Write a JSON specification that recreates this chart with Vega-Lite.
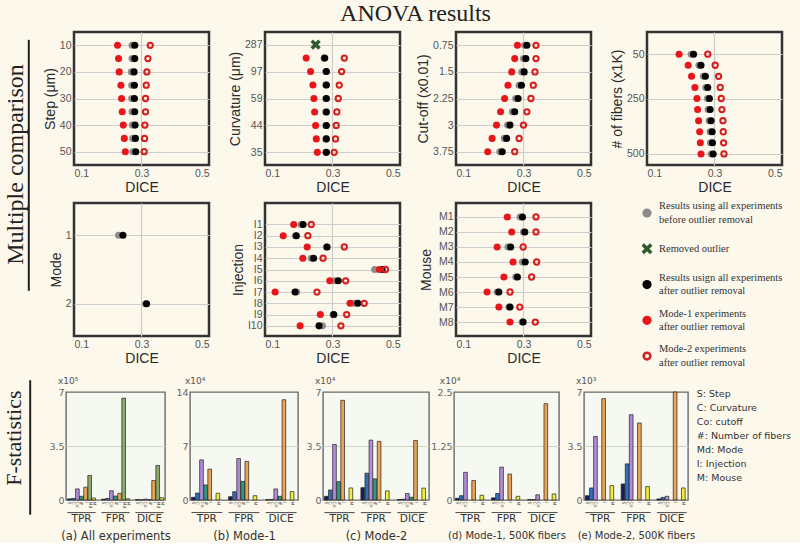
{
"$schema": "https://vega.github.io/schema/vega-lite/v6.json",
"background": "#fcf8ec",
"padding": {"left": 0, "top": 1, "right": 0, "bottom": 0},
"title": {"text": "ANOVA results", "font": "Liberation Serif", "fontSize": 24, "fontWeight": "normal", "color": "#222", "anchor": "middle", "offset": 5, "dx": 14},
"resolve": {"scale": {"color": "independent"}},
"config": {
  "font": "Liberation Sans",
  "view": {"stroke": "#333", "strokeWidth": 2.5},
  "axis": {"labelFont": "Liberation Sans", "titleFont": "Liberation Sans", "labelColor": "#555", "titleColor": "#2a2a2a", "titleFontWeight": "normal", "labelFontSize": 10.5, "titleFontSize": 14, "domain": false, "ticks": false, "gridColor": "#cdcdcd", "gridWidth": 1.2, "labelPadding": 3, "titlePadding": 2}
},
"datasets": {
  "step": [
    {"level":10,"kind":"before","dice":0.272},{"level":15,"kind":"before","dice":0.272},{"level":20,"kind":"before","dice":0.270},{"level":25,"kind":"before","dice":0.271},{"level":30,"kind":"before","dice":0.271},{"level":35,"kind":"before","dice":0.272},{"level":40,"kind":"before","dice":0.273},{"level":45,"kind":"before","dice":0.274},{"level":50,"kind":"before","dice":0.275},
    {"level":10,"kind":"after","dice":0.280},{"level":15,"kind":"after","dice":0.280},{"level":20,"kind":"after","dice":0.278},{"level":25,"kind":"after","dice":0.279},{"level":30,"kind":"after","dice":0.279},{"level":35,"kind":"after","dice":0.280},{"level":40,"kind":"after","dice":0.281},{"level":45,"kind":"after","dice":0.282},{"level":50,"kind":"after","dice":0.283},
    {"level":10,"kind":"mode1","dice":0.229},{"level":15,"kind":"mode1","dice":0.232},{"level":20,"kind":"mode1","dice":0.234},{"level":25,"kind":"mode1","dice":0.239},{"level":30,"kind":"mode1","dice":0.241},{"level":35,"kind":"mode1","dice":0.243},{"level":40,"kind":"mode1","dice":0.246},{"level":45,"kind":"mode1","dice":0.249},{"level":50,"kind":"mode1","dice":0.252},
    {"level":10,"kind":"mode2","dice":0.326},{"level":15,"kind":"mode2","dice":0.319},{"level":20,"kind":"mode2","dice":0.316},{"level":25,"kind":"mode2","dice":0.314},{"level":30,"kind":"mode2","dice":0.312},{"level":35,"kind":"mode2","dice":0.312},{"level":40,"kind":"mode2","dice":0.310},{"level":45,"kind":"mode2","dice":0.309},{"level":50,"kind":"mode2","dice":0.308}
  ],
  "curvature": [
    {"level":"287","kind":"outlier","dice":0.250},
    {"level":"143","kind":"before","dice":0.275},{"level":"97","kind":"before","dice":0.280},{"level":"72","kind":"before","dice":0.280},{"level":"59","kind":"before","dice":0.280},{"level":"50","kind":"before","dice":0.280},{"level":"44","kind":"before","dice":0.280},{"level":"39","kind":"before","dice":0.280},{"level":"35","kind":"before","dice":0.280},
    {"level":"143","kind":"after","dice":0.277},{"level":"97","kind":"after","dice":0.282},{"level":"72","kind":"after","dice":0.282},{"level":"59","kind":"after","dice":0.282},{"level":"50","kind":"after","dice":0.282},{"level":"44","kind":"after","dice":0.282},{"level":"39","kind":"after","dice":0.282},{"level":"35","kind":"after","dice":0.282},
    {"level":"143","kind":"mode1","dice":0.222},{"level":"97","kind":"mode1","dice":0.235},{"level":"72","kind":"mode1","dice":0.242},{"level":"59","kind":"mode1","dice":0.245},{"level":"50","kind":"mode1","dice":0.247},{"level":"44","kind":"mode1","dice":0.250},{"level":"39","kind":"mode1","dice":0.252},{"level":"35","kind":"mode1","dice":0.255},
    {"level":"143","kind":"mode2","dice":0.335},{"level":"97","kind":"mode2","dice":0.327},{"level":"72","kind":"mode2","dice":0.320},{"level":"59","kind":"mode2","dice":0.317},{"level":"50","kind":"mode2","dice":0.313},{"level":"44","kind":"mode2","dice":0.311},{"level":"39","kind":"mode2","dice":0.309},{"level":"35","kind":"mode2","dice":0.305}
  ],
  "cutoff": [
    {"level":0.75,"kind":"before","dice":0.303},{"level":1.125,"kind":"before","dice":0.300},{"level":1.5,"kind":"before","dice":0.295},{"level":1.875,"kind":"before","dice":0.287},{"level":2.25,"kind":"before","dice":0.277},{"level":2.625,"kind":"before","dice":0.267},{"level":3,"kind":"before","dice":0.253},{"level":3.375,"kind":"before","dice":0.243},{"level":3.75,"kind":"before","dice":0.230},
    {"level":0.75,"kind":"after","dice":0.310},{"level":1.125,"kind":"after","dice":0.307},{"level":1.5,"kind":"after","dice":0.302},{"level":1.875,"kind":"after","dice":0.294},{"level":2.25,"kind":"after","dice":0.284},{"level":2.625,"kind":"after","dice":0.274},{"level":3,"kind":"after","dice":0.260},{"level":3.375,"kind":"after","dice":0.250},{"level":3.75,"kind":"after","dice":0.237},
    {"level":0.75,"kind":"mode1","dice":0.282},{"level":1.125,"kind":"mode1","dice":0.274},{"level":1.5,"kind":"mode1","dice":0.265},{"level":1.875,"kind":"mode1","dice":0.254},{"level":2.25,"kind":"mode1","dice":0.244},{"level":2.625,"kind":"mode1","dice":0.232},{"level":3,"kind":"mode1","dice":0.220},{"level":3.375,"kind":"mode1","dice":0.207},{"level":3.75,"kind":"mode1","dice":0.194},
    {"level":0.75,"kind":"mode2","dice":0.337},{"level":1.125,"kind":"mode2","dice":0.337},{"level":1.5,"kind":"mode2","dice":0.334},{"level":1.875,"kind":"mode2","dice":0.329},{"level":2.25,"kind":"mode2","dice":0.322},{"level":2.625,"kind":"mode2","dice":0.310},{"level":3,"kind":"mode2","dice":0.300},{"level":3.375,"kind":"mode2","dice":0.287},{"level":3.75,"kind":"mode2","dice":0.274}
  ],
  "fibers": [
    {"level":50,"kind":"before","dice":0.231},{"level":100,"kind":"before","dice":0.254},{"level":150,"kind":"before","dice":0.267},{"level":200,"kind":"before","dice":0.274},{"level":250,"kind":"before","dice":0.279},{"level":300,"kind":"before","dice":0.281},{"level":350,"kind":"before","dice":0.284},{"level":400,"kind":"before","dice":0.287},{"level":450,"kind":"before","dice":0.288},{"level":500,"kind":"before","dice":0.290},
    {"level":50,"kind":"after","dice":0.238},{"level":100,"kind":"after","dice":0.260},{"level":150,"kind":"after","dice":0.273},{"level":200,"kind":"after","dice":0.280},{"level":250,"kind":"after","dice":0.285},{"level":300,"kind":"after","dice":0.287},{"level":350,"kind":"after","dice":0.290},{"level":400,"kind":"after","dice":0.293},{"level":450,"kind":"after","dice":0.294},{"level":500,"kind":"after","dice":0.296},
    {"level":50,"kind":"mode1","dice":0.195},{"level":100,"kind":"mode1","dice":0.222},{"level":150,"kind":"mode1","dice":0.232},{"level":200,"kind":"mode1","dice":0.242},{"level":250,"kind":"mode1","dice":0.248},{"level":300,"kind":"mode1","dice":0.250},{"level":350,"kind":"mode1","dice":0.253},{"level":400,"kind":"mode1","dice":0.256},{"level":450,"kind":"mode1","dice":0.258},{"level":500,"kind":"mode1","dice":0.260},
    {"level":50,"kind":"mode2","dice":0.280},{"level":100,"kind":"mode2","dice":0.302},{"level":150,"kind":"mode2","dice":0.312},{"level":200,"kind":"mode2","dice":0.317},{"level":250,"kind":"mode2","dice":0.320},{"level":300,"kind":"mode2","dice":0.322},{"level":350,"kind":"mode2","dice":0.325},{"level":400,"kind":"mode2","dice":0.326},{"level":450,"kind":"mode2","dice":0.327},{"level":500,"kind":"mode2","dice":0.328}
  ],
  "mode": [
    {"level":"1","kind":"before","dice":0.232},{"level":"2","kind":"before","dice":0.312},
    {"level":"1","kind":"after","dice":0.245},{"level":"2","kind":"after","dice":0.315}
  ],
  "injection": [
    {"level":"I1","kind":"before","dice":0.207},{"level":"I2","kind":"before","dice":0.190},{"level":"I3","kind":"before","dice":0.282},{"level":"I4","kind":"before","dice":0.237},{"level":"I5","kind":"before","dice":0.425},{"level":"I6","kind":"before","dice":0.307},{"level":"I7","kind":"before","dice":0.194},{"level":"I8","kind":"before","dice":0.365},{"level":"I9","kind":"before","dice":0.302},{"level":"I10","kind":"before","dice":0.270},
    {"level":"I1","kind":"after","dice":0.213},{"level":"I2","kind":"after","dice":0.193},{"level":"I3","kind":"after","dice":0.284},{"level":"I4","kind":"after","dice":0.244},{"level":"I5","kind":"after","dice":0.447},{"level":"I6","kind":"after","dice":0.317},{"level":"I7","kind":"after","dice":0.189},{"level":"I8","kind":"after","dice":0.375},{"level":"I9","kind":"after","dice":0.304},{"level":"I10","kind":"after","dice":0.260},
    {"level":"I1","kind":"mode1","dice":0.185},{"level":"I2","kind":"mode1","dice":0.154},{"level":"I3","kind":"mode1","dice":0.225},{"level":"I4","kind":"mode1","dice":0.212},{"level":"I5","kind":"mode1","dice":0.439},{"level":"I6","kind":"mode1","dice":0.292},{"level":"I7","kind":"mode1","dice":0.130},{"level":"I8","kind":"mode1","dice":0.352},{"level":"I9","kind":"mode1","dice":0.264},{"level":"I10","kind":"mode1","dice":0.204},
    {"level":"I1","kind":"mode2","dice":0.237},{"level":"I2","kind":"mode2","dice":0.227},{"level":"I3","kind":"mode2","dice":0.335},{"level":"I4","kind":"mode2","dice":0.272},{"level":"I5","kind":"mode2","dice":0.457},{"level":"I6","kind":"mode2","dice":0.339},{"level":"I7","kind":"mode2","dice":0.254},{"level":"I8","kind":"mode2","dice":0.394},{"level":"I9","kind":"mode2","dice":0.342},{"level":"I10","kind":"mode2","dice":0.325}
  ],
  "mouse": [
    {"level":"M1","kind":"before","dice":0.290},{"level":"M2","kind":"before","dice":0.300},{"level":"M3","kind":"before","dice":0.254},{"level":"M4","kind":"before","dice":0.297},{"level":"M5","kind":"before","dice":0.277},{"level":"M6","kind":"before","dice":0.222},{"level":"M7","kind":"before","dice":0.257},{"level":"M8","kind":"before","dice":0.296},
    {"level":"M1","kind":"after","dice":0.297},{"level":"M2","kind":"after","dice":0.304},{"level":"M3","kind":"after","dice":0.262},{"level":"M4","kind":"after","dice":0.305},{"level":"M5","kind":"after","dice":0.282},{"level":"M6","kind":"after","dice":0.227},{"level":"M7","kind":"after","dice":0.260},{"level":"M8","kind":"after","dice":0.299},
    {"level":"M1","kind":"mode1","dice":0.252},{"level":"M2","kind":"mode1","dice":0.265},{"level":"M3","kind":"mode1","dice":0.222},{"level":"M4","kind":"mode1","dice":0.269},{"level":"M5","kind":"mode1","dice":0.242},{"level":"M6","kind":"mode1","dice":0.192},{"level":"M7","kind":"mode1","dice":0.227},{"level":"M8","kind":"mode1","dice":0.260},
    {"level":"M1","kind":"mode2","dice":0.337},{"level":"M2","kind":"mode2","dice":0.337},{"level":"M3","kind":"mode2","dice":0.299},{"level":"M4","kind":"mode2","dice":0.339},{"level":"M5","kind":"mode2","dice":0.324},{"level":"M6","kind":"mode2","dice":0.260},{"level":"M7","kind":"mode2","dice":0.289},{"level":"M8","kind":"mode2","dice":0.335}
  ],
  "legendTop": [
    {"item":1,"kind":"before","label":"Results using all experiments\nbefore outlier removal"},
    {"item":2,"kind":"outlier","label":"Removed outlier"},
    {"item":3,"kind":"after","label":"Results usign all experiments\nafter outlier removal"},
    {"item":4,"kind":"mode1","label":"Mode-1 experiments\nafter outlier removal"},
    {"item":5,"kind":"mode2","label":"Mode-2 experiments\nafter outlier removal"}
  ],
  "legendBottom": [
    {"i":1,"label":"S: Step"},{"i":2,"label":"C: Curvature"},{"i":3,"label":"Co: cutoff"},{"i":4,"label":"#: Number of fibers"},{"i":5,"label":"Md: Mode"},{"i":6,"label":"I: Injection"},{"i":7,"label":"M: Mouse"}
  ],
  "fa": [
    {"measure":"TPR","factor":"S","value":0.07},{"measure":"TPR","factor":"C","value":0.1},{"measure":"TPR","factor":"Co","value":0.72},{"measure":"TPR","factor":"#","value":0.24},{"measure":"TPR","factor":"Md","value":1.59},{"measure":"TPR","factor":"I","value":0.83},{"measure":"TPR","factor":"M","value":0.13},
    {"measure":"FPR","factor":"S","value":0.05},{"measure":"FPR","factor":"C","value":0.1},{"measure":"FPR","factor":"Co","value":0.6},{"measure":"FPR","factor":"#","value":0.26},{"measure":"FPR","factor":"Md","value":6.6},{"measure":"FPR","factor":"I","value":0.43},{"measure":"FPR","factor":"M","value":0.08},
    {"measure":"DICE","factor":"S","value":0.02},{"measure":"DICE","factor":"C","value":0.01},{"measure":"DICE","factor":"Co","value":0.06},{"measure":"DICE","factor":"#","value":0.02},{"measure":"DICE","factor":"Md","value":2.24},{"measure":"DICE","factor":"I","value":1.26},{"measure":"DICE","factor":"M","value":0.15}
  ],
  "fb": [
    {"measure":"TPR","factor":"S","value":0.35},{"measure":"TPR","factor":"C","value":0.9},{"measure":"TPR","factor":"Co","value":5.2},{"measure":"TPR","factor":"#","value":1.95},{"measure":"TPR","factor":"I","value":4.0},{"measure":"TPR","factor":"M","value":0.87},
    {"measure":"FPR","factor":"S","value":0.43},{"measure":"FPR","factor":"C","value":1.08},{"measure":"FPR","factor":"Co","value":5.37},{"measure":"FPR","factor":"#","value":2.42},{"measure":"FPR","factor":"I","value":5.0},{"measure":"FPR","factor":"M","value":0.56},
    {"measure":"DICE","factor":"S","value":0.04},{"measure":"DICE","factor":"C","value":0.08},{"measure":"DICE","factor":"Co","value":1.43},{"measure":"DICE","factor":"#","value":0.48},{"measure":"DICE","factor":"I","value":13.0},{"measure":"DICE","factor":"M","value":1.1}
  ],
  "fc": [
    {"measure":"TPR","factor":"S","value":0.24},{"measure":"TPR","factor":"C","value":0.65},{"measure":"TPR","factor":"Co","value":3.6},{"measure":"TPR","factor":"#","value":1.19},{"measure":"TPR","factor":"I","value":6.46},{"measure":"TPR","factor":"M","value":0.78},
    {"measure":"FPR","factor":"S","value":0.8},{"measure":"FPR","factor":"C","value":1.74},{"measure":"FPR","factor":"Co","value":3.88},{"measure":"FPR","factor":"#","value":1.37},{"measure":"FPR","factor":"I","value":3.8},{"measure":"FPR","factor":"M","value":0.59},
    {"measure":"DICE","factor":"S","value":0.03},{"measure":"DICE","factor":"C","value":0.05},{"measure":"DICE","factor":"Co","value":0.42},{"measure":"DICE","factor":"#","value":0.18},{"measure":"DICE","factor":"I","value":3.86},{"measure":"DICE","factor":"M","value":0.77}
  ],
  "fd": [
    {"measure":"TPR","factor":"S","value":0.04},{"measure":"TPR","factor":"C","value":0.1},{"measure":"TPR","factor":"Co","value":0.64},{"measure":"TPR","factor":"I","value":0.45},{"measure":"TPR","factor":"M","value":0.11},
    {"measure":"FPR","factor":"S","value":0.05},{"measure":"FPR","factor":"C","value":0.15},{"measure":"FPR","factor":"Co","value":0.76},{"measure":"FPR","factor":"I","value":0.6},{"measure":"FPR","factor":"M","value":0.085},
    {"measure":"DICE","factor":"S","value":0.01},{"measure":"DICE","factor":"C","value":0.01},{"measure":"DICE","factor":"Co","value":0.12},{"measure":"DICE","factor":"I","value":2.23},{"measure":"DICE","factor":"M","value":0.14}
  ],
  "fe": [
    {"measure":"TPR","factor":"S","value":0.28},{"measure":"TPR","factor":"C","value":0.78},{"measure":"TPR","factor":"Co","value":4.12},{"measure":"TPR","factor":"I","value":6.57},{"measure":"TPR","factor":"M","value":0.93},
    {"measure":"FPR","factor":"S","value":1.04},{"measure":"FPR","factor":"C","value":2.34},{"measure":"FPR","factor":"Co","value":5.53},{"measure":"FPR","factor":"I","value":4.99},{"measure":"FPR","factor":"M","value":0.87},
    {"measure":"DICE","factor":"S","value":0.07},{"measure":"DICE","factor":"C","value":0.17},{"measure":"DICE","factor":"Co","value":0.24},{"measure":"DICE","factor":"I","value":7.0},{"measure":"DICE","factor":"M","value":0.78}
  ],
  "labelTop": [{"label":"Multiple comparison"}],
  "labelBottom": [{"label":"F-statistics"}]
},
"vconcat": [
 {
  "hconcat": [
   {
    "width": 36, "height": 305,
    "view": {"stroke": null},
    "data": {"name": "labelTop"},
    "layer": [
     {"mark": {"type": "text", "angle": 270, "align": "center", "baseline": "middle", "font": "Liberation Serif", "fontSize": 24, "color": "#222"},
      "encoding": {"x": {"datum": 18, "type": "quantitative", "scale": {"domain": [0, 36]}, "axis": null}, "y": {"datum": 152, "type": "quantitative", "scale": {"domain": [0, 305], "reverse": true}, "axis": null}, "text": {"field": "label"}}},
     {"mark": {"type": "rule", "color": "#222", "strokeWidth": 2},
      "encoding": {"x": {"datum": 32, "type": "quantitative"}, "y": {"datum": 9, "type": "quantitative"}, "y2": {"datum": 297}}}
    ]
   },
   {
    "vconcat": [
     {
      "hconcat": [
       {
        "width": 135, "height": 133,
        "data": {"name": "step"},
        "encoding": {
         "x": {"field": "dice", "type": "quantitative", "scale": {"domain": [0.1, 0.5], "nice": false, "zero": false}, "axis": {"values": [0.1, 0.3, 0.5], "format": ".1f", "title": "DICE", "grid": true, "gridOpacity": {"condition": {"test": "datum.value === 0.3", "value": 1}, "value": 0}}},
         "y": {"field": "level", "type": "quantitative", "scale": {"domain": [5, 55], "reverse": true, "nice": false, "zero": false}, "axis": {"values": [10, 20, 30, 40, 50], "labelExpr": "datum.value + ''", "title": "Step (μm)", "grid": true}}
        },
        "layer": [
         {"transform": [{"filter": "datum.kind === 'before' || datum.kind === 'after' || datum.kind === 'mode1'"}], "mark": {"type": "circle", "size": 50, "opacity": 1}, "encoding": {"color": {"field": "kind", "type": "nominal", "scale": {"domain": ["before", "after", "mode1"], "range": ["#8c8c8c", "#050505", "#e8161b"]}, "legend": null}}},
         {"transform": [{"filter": "datum.kind === 'mode2'"}], "mark": {"type": "point", "shape": "circle", "size": 28, "strokeWidth": 2, "color": "#d61e1e", "filled": false, "opacity": 1}}
        ]
       },
       {
        "width": 135, "height": 133,
        "data": {"name": "curvature"},
        "encoding": {
         "x": {"field": "dice", "type": "quantitative", "scale": {"domain": [0.1, 0.5], "nice": false, "zero": false}, "axis": {"values": [0.1, 0.3, 0.5], "format": ".1f", "title": "DICE", "grid": true, "gridOpacity": {"condition": {"test": "datum.value === 0.3", "value": 1}, "value": 0}}},
         "y": {"field": "level", "type": "ordinal", "scale": {"domain": ["287", "143", "97", "72", "59", "50", "44", "39", "35"], "padding": 0.94}, "axis": {"values": ["287", "97", "59", "44", "35"], "title": "Curvature (μm)", "grid": true}}
        },
        "layer": [
         {"transform": [{"filter": "datum.kind === 'before' || datum.kind === 'after' || datum.kind === 'mode1'"}], "mark": {"type": "circle", "size": 50, "opacity": 1}, "encoding": {"color": {"field": "kind", "type": "nominal", "scale": {"domain": ["before", "after", "mode1"], "range": ["#8c8c8c", "#050505", "#e8161b"]}, "legend": null}}},
         {"transform": [{"filter": "datum.kind === 'mode2'"}], "mark": {"type": "point", "shape": "circle", "size": 28, "strokeWidth": 2, "color": "#d61e1e", "filled": false, "opacity": 1}},
         {"transform": [{"filter": "datum.kind === 'outlier'"}], "mark": {"type": "point", "shape": "M-1,-1L1,1M-1,1L1,-1", "size": 60, "strokeWidth": 3.5, "color": "#2f5a30", "filled": false, "opacity": 1}}
        ]
       },
       {
        "width": 135, "height": 133,
        "data": {"name": "cutoff"},
        "encoding": {
         "x": {"field": "dice", "type": "quantitative", "scale": {"domain": [0.1, 0.5], "nice": false, "zero": false}, "axis": {"values": [0.1, 0.3, 0.5], "format": ".1f", "title": "DICE", "grid": true, "gridOpacity": {"condition": {"test": "datum.value === 0.3", "value": 1}, "value": 0}}},
         "y": {"field": "level", "type": "quantitative", "scale": {"domain": [0.375, 4.125], "reverse": true, "nice": false, "zero": false}, "axis": {"values": [0.75, 1.5, 2.25, 3, 3.75], "labelExpr": "datum.value + ''", "title": "Cut-off (x0.01)", "grid": true}}
        },
        "layer": [
         {"transform": [{"filter": "datum.kind === 'before' || datum.kind === 'after' || datum.kind === 'mode1'"}], "mark": {"type": "circle", "size": 50, "opacity": 1}, "encoding": {"color": {"field": "kind", "type": "nominal", "scale": {"domain": ["before", "after", "mode1"], "range": ["#8c8c8c", "#050505", "#e8161b"]}, "legend": null}}},
         {"transform": [{"filter": "datum.kind === 'mode2'"}], "mark": {"type": "point", "shape": "circle", "size": 28, "strokeWidth": 2, "color": "#d61e1e", "filled": false, "opacity": 1}}
        ]
       },
       {
        "width": 135, "height": 133,
        "data": {"name": "fibers"},
        "encoding": {
         "x": {"field": "dice", "type": "quantitative", "scale": {"domain": [0.1, 0.5], "nice": false, "zero": false}, "axis": {"values": [0.1, 0.3, 0.5], "format": ".1f", "title": "DICE", "grid": true, "gridOpacity": {"condition": {"test": "datum.value === 0.3", "value": 1}, "value": 0}}},
         "y": {"field": "level", "type": "quantitative", "scale": {"domain": [-50, 550], "reverse": true, "nice": false, "zero": false}, "axis": {"values": [50, 250, 500], "labelExpr": "datum.value + ''", "title": "# of fibers (x1K)", "grid": true}}
        },
        "layer": [
         {"transform": [{"filter": "datum.kind === 'before' || datum.kind === 'after' || datum.kind === 'mode1'"}], "mark": {"type": "circle", "size": 50, "opacity": 1}, "encoding": {"color": {"field": "kind", "type": "nominal", "scale": {"domain": ["before", "after", "mode1"], "range": ["#8c8c8c", "#050505", "#e8161b"]}, "legend": null}}},
         {"transform": [{"filter": "datum.kind === 'mode2'"}], "mark": {"type": "point", "shape": "circle", "size": 28, "strokeWidth": 2, "color": "#d61e1e", "filled": false, "opacity": 1}}
        ]
       }
      ],
      "spacing": 56, "bounds": "flush"
     },
     {
      "hconcat": [
       {
        "width": 135, "height": 133,
        "data": {"name": "mode"},
        "encoding": {
         "x": {"field": "dice", "type": "quantitative", "scale": {"domain": [0.1, 0.5], "nice": false, "zero": false}, "axis": {"values": [0.1, 0.3, 0.5], "format": ".1f", "title": "DICE", "grid": true, "gridOpacity": {"condition": {"test": "datum.value === 0.3", "value": 1}, "value": 0}}},
         "y": {"field": "level", "type": "ordinal", "scale": {"domain": ["1", "2"], "padding": 0.47}, "axis": {"title": "Mode", "grid": true}}
        },
        "layer": [
         {"mark": {"type": "circle", "size": 50, "opacity": 1}, "encoding": {"color": {"field": "kind", "type": "nominal", "scale": {"domain": ["before", "after", "mode1"], "range": ["#8c8c8c", "#050505", "#e8161b"]}, "legend": null}}}
        ]
       },
       {
        "width": 135, "height": 133,
        "data": {"name": "injection"},
        "encoding": {
         "x": {"field": "dice", "type": "quantitative", "scale": {"domain": [0.1, 0.5], "nice": false, "zero": false}, "axis": {"values": [0.1, 0.3, 0.5], "format": ".1f", "title": "DICE", "grid": true, "gridOpacity": {"condition": {"test": "datum.value === 0.3", "value": 1}, "value": 0}}},
         "y": {"field": "level", "type": "ordinal", "scale": {"domain": [" ", "I1", "I2", "I3", "I4", "I5", "I6", "I7", "I8", "I9", "I10"], "padding": 0.9}, "axis": {"values": ["I1", "I2", "I3", "I4", "I5", "I6", "I7", "I8", "I9", "I10"], "title": "Injection", "grid": true}}
        },
        "layer": [
         {"transform": [{"filter": "datum.kind === 'before' || datum.kind === 'after' || datum.kind === 'mode1'"}], "mark": {"type": "circle", "size": 50, "opacity": 1}, "encoding": {"color": {"field": "kind", "type": "nominal", "scale": {"domain": ["before", "after", "mode1"], "range": ["#8c8c8c", "#050505", "#e8161b"]}, "legend": null}}},
         {"transform": [{"filter": "datum.kind === 'mode2'"}], "mark": {"type": "point", "shape": "circle", "size": 28, "strokeWidth": 2, "color": "#d61e1e", "filled": false, "opacity": 1}}
        ]
       },
       {
        "width": 135, "height": 133,
        "data": {"name": "mouse"},
        "encoding": {
         "x": {"field": "dice", "type": "quantitative", "scale": {"domain": [0.1, 0.5], "nice": false, "zero": false}, "axis": {"values": [0.1, 0.3, 0.5], "format": ".1f", "title": "DICE", "grid": true, "gridOpacity": {"condition": {"test": "datum.value === 0.3", "value": 1}, "value": 0}}},
         "y": {"field": "level", "type": "ordinal", "scale": {"domain": ["M1", "M2", "M3", "M4", "M5", "M6", "M7", "M8"], "padding": 0.93}, "axis": {"title": "Mouse", "grid": true, "titlePadding": 5}}
        },
        "layer": [
         {"transform": [{"filter": "datum.kind === 'before' || datum.kind === 'after' || datum.kind === 'mode1'"}], "mark": {"type": "circle", "size": 50, "opacity": 1}, "encoding": {"color": {"field": "kind", "type": "nominal", "scale": {"domain": ["before", "after", "mode1"], "range": ["#8c8c8c", "#050505", "#e8161b"]}, "legend": null}}},
         {"transform": [{"filter": "datum.kind === 'mode2'"}], "mark": {"type": "point", "shape": "circle", "size": 28, "strokeWidth": 2, "color": "#d61e1e", "filled": false, "opacity": 1}}
        ]
       },
       {
        "width": 135, "height": 133,
        "view": {"stroke": null},
        "data": {"name": "legendTop"},
        "encoding": {
         "x": {"datum": 0, "type": "quantitative", "scale": {"domain": [0, 1]}, "axis": null},
         "y": {"field": "item", "type": "quantitative", "scale": {"domain": [0.72, 4.44], "reverse": true, "nice": false, "zero": false}, "axis": null}
        },
        "layer": [
         {"transform": [{"filter": "datum.kind === 'before' || datum.kind === 'after' || datum.kind === 'mode1'"}], "mark": {"type": "circle", "size": 85, "opacity": 1}, "encoding": {"color": {"field": "kind", "type": "nominal", "scale": {"domain": ["before", "after", "mode1"], "range": ["#8c8c8c", "#050505", "#e8161b"]}, "legend": null}}},
         {"transform": [{"filter": "datum.kind === 'mode2'"}], "mark": {"type": "point", "shape": "circle", "size": 45, "strokeWidth": 2.5, "color": "#d61e1e", "filled": false, "opacity": 1}},
         {"transform": [{"filter": "datum.kind === 'outlier'"}], "mark": {"type": "point", "shape": "M-1,-1L1,1M-1,1L1,-1", "size": 70, "strokeWidth": 3.5, "color": "#2f5a30", "filled": false, "opacity": 1}},
         {"transform": [{"filter": "datum.kind !== 'outlier'"}], "mark": {"type": "text", "align": "left", "baseline": "middle", "dx": 12, "dy": -6.75, "font": "Liberation Serif", "fontSize": 10.5, "lineHeight": 13.5, "lineBreak": "\n", "color": "#333"}, "encoding": {"text": {"field": "label"}}},
         {"transform": [{"filter": "datum.kind === 'outlier'"}], "mark": {"type": "text", "align": "left", "baseline": "middle", "dx": 12, "font": "Liberation Serif", "fontSize": 10.5, "color": "#333"}, "encoding": {"text": {"field": "label"}}}
        ]
       }
      ],
      "spacing": 56, "bounds": "flush"
     }
    ],
    "spacing": 5
   }
  ],
  "spacing": 6
 },
 {
  "hconcat": [
   {
    "width": 33, "height": 108,
    "view": {"stroke": null},
    "data": {"name": "labelBottom"},
    "layer": [
     {"mark": {"type": "text", "angle": 270, "align": "center", "baseline": "middle", "font": "Liberation Serif", "fontSize": 22, "color": "#222"},
      "encoding": {"x": {"datum": 15, "type": "quantitative", "scale": {"domain": [0, 33]}, "axis": null}, "y": {"datum": 47, "type": "quantitative", "scale": {"domain": [0, 108], "reverse": true}, "axis": null}, "text": {"field": "label"}}},
     {"mark": {"type": "rule", "color": "#222", "strokeWidth": 2},
      "encoding": {"x": {"datum": 32, "type": "quantitative"}, "y": {"datum": -12, "type": "quantitative"}, "y2": {"datum": 125}}}
    ]
   },
   {
    "hconcat": [
     {
      "width": 99, "height": 108,
      "data": {"name": "fa"},
      "view": {"stroke": "#6b6b6b", "strokeWidth": 1.4, "fill": "#f6f9f1"},
      "title": {"text": "x10⁵", "anchor": "start", "dx": 9, "offset": 1, "fontSize": 9, "font": "DejaVu Sans", "fontWeight": "normal", "color": "#555"},
      "encoding": {"x": {"field": "measure", "type": "nominal", "sort": ["TPR", "FPR", "DICE"], "scale": {"paddingInner": 0.17, "paddingOuter": 0.04}, "axis": {"title": "(a) All experiments", "labelAngle": 0, "labelPadding": 13, "titlePadding": 7, "labelFont": "DejaVu Sans", "labelFontSize": 10.5, "labelColor": "#333", "titleFont": "DejaVu Sans", "titleFontSize": 11.5, "titleColor": "#333", "grid": false}}},
      "layer": [
       {"mark": {"type": "bar", "stroke": "#222", "strokeWidth": 0.7}, "encoding": {"xOffset": {"field": "factor", "type": "nominal", "sort": ["S", "C", "Co", "#", "Md", "I", "M"], "scale": {"paddingInner": 0.1}}, "y": {"field": "value", "type": "quantitative", "scale": {"domain": [0, 7], "nice": false}, "axis": {"values": [0, 3.5, 7], "labelExpr": "datum.value + ''", "title": null, "labelFont": "DejaVu Sans", "labelFontSize": 9.5, "labelColor": "#666", "labelPadding": 2, "grid": true, "gridColor": "#cfd6c8", "gridOpacity": {"condition": {"test": "datum.value === 3.5", "value": 1}, "value": 0}}}, "color": {"field": "factor", "type": "nominal", "scale": {"domain": ["S", "C", "Co", "#", "Md", "I", "M"], "range": ["#1c1a5c", "#2f6fb8", "#b38bd9", "#2e9a7e", "#8caa6a", "#e9a455", "#f1ee3a"]}, "legend": null}}},
       {"mark": {"type": "text", "angle": 90, "align": "left", "baseline": "middle", "dx": 1.5, "fontSize": 4.5, "color": "#555", "font": "DejaVu Sans"}, "encoding": {"xOffset": {"field": "factor", "type": "nominal", "sort": ["S", "C", "Co", "#", "Md", "I", "M"]}, "y": {"datum": 0, "axis": {"title": null}}, "text": {"field": "factor"}}},
       {"transform": [{"filter": "datum.factor === 'S'"}], "mark": {"type": "bar", "color": "#555"}, "encoding": {"y": {"datum": -0.78, "axis": {"title": null}}, "y2": {"datum": -0.85}}}
      ]
     },
     {
      "width": 108, "height": 108,
      "data": {"name": "fb"},
      "view": {"stroke": "#6b6b6b", "strokeWidth": 1.4, "fill": "#f6f9f1"},
      "title": {"text": "x10⁴", "anchor": "start", "dx": 9, "offset": 1, "fontSize": 9, "font": "DejaVu Sans", "fontWeight": "normal", "color": "#555"},
      "encoding": {"x": {"field": "measure", "type": "nominal", "sort": ["TPR", "FPR", "DICE"], "scale": {"paddingInner": 0.17, "paddingOuter": 0.04}, "axis": {"title": "(b) Mode-1", "labelAngle": 0, "labelPadding": 13, "titlePadding": 7, "labelFont": "DejaVu Sans", "labelFontSize": 10.5, "labelColor": "#333", "titleFont": "DejaVu Sans", "titleFontSize": 11.5, "titleColor": "#333", "grid": false}}},
      "layer": [
       {"mark": {"type": "bar", "stroke": "#222", "strokeWidth": 0.7}, "encoding": {"xOffset": {"field": "factor", "type": "nominal", "sort": ["S", "C", "Co", "#", "I", "M"], "scale": {"paddingInner": 0.1}}, "y": {"field": "value", "type": "quantitative", "scale": {"domain": [0, 14], "nice": false}, "axis": {"values": [0, 7, 14], "labelExpr": "datum.value + ''", "title": null, "labelFont": "DejaVu Sans", "labelFontSize": 9.5, "labelColor": "#666", "labelPadding": 2, "grid": true, "gridColor": "#cfd6c8", "gridOpacity": {"condition": {"test": "datum.value === 7", "value": 1}, "value": 0}}}, "color": {"field": "factor", "type": "nominal", "scale": {"domain": ["S", "C", "Co", "#", "Md", "I", "M"], "range": ["#1c1a5c", "#2f6fb8", "#b38bd9", "#2e9a7e", "#8caa6a", "#e9a455", "#f1ee3a"]}, "legend": null}}},
       {"mark": {"type": "text", "angle": 90, "align": "left", "baseline": "middle", "dx": 1.5, "fontSize": 4.5, "color": "#555", "font": "DejaVu Sans"}, "encoding": {"xOffset": {"field": "factor", "type": "nominal", "sort": ["S", "C", "Co", "#", "I", "M"]}, "y": {"datum": 0, "axis": {"title": null}}, "text": {"field": "factor"}}},
       {"transform": [{"filter": "datum.factor === 'S'"}], "mark": {"type": "bar", "color": "#555"}, "encoding": {"y": {"datum": -1.56, "axis": {"title": null}}, "y2": {"datum": -1.7}}}
      ]
     },
     {
      "width": 106, "height": 108,
      "data": {"name": "fc"},
      "view": {"stroke": "#6b6b6b", "strokeWidth": 1.4, "fill": "#f6f9f1"},
      "title": {"text": "x10⁴", "anchor": "start", "dx": 9, "offset": 1, "fontSize": 9, "font": "DejaVu Sans", "fontWeight": "normal", "color": "#555"},
      "encoding": {"x": {"field": "measure", "type": "nominal", "sort": ["TPR", "FPR", "DICE"], "scale": {"paddingInner": 0.17, "paddingOuter": 0.04}, "axis": {"title": "(c) Mode-2", "labelAngle": 0, "labelPadding": 13, "titlePadding": 7, "labelFont": "DejaVu Sans", "labelFontSize": 10.5, "labelColor": "#333", "titleFont": "DejaVu Sans", "titleFontSize": 11.5, "titleColor": "#333", "grid": false}}},
      "layer": [
       {"mark": {"type": "bar", "stroke": "#222", "strokeWidth": 0.7}, "encoding": {"xOffset": {"field": "factor", "type": "nominal", "sort": ["S", "C", "Co", "#", "I", "M"], "scale": {"paddingInner": 0.1}}, "y": {"field": "value", "type": "quantitative", "scale": {"domain": [0, 7], "nice": false}, "axis": {"values": [0, 3.5, 7], "labelExpr": "datum.value + ''", "title": null, "labelFont": "DejaVu Sans", "labelFontSize": 9.5, "labelColor": "#666", "labelPadding": 2, "grid": true, "gridColor": "#cfd6c8", "gridOpacity": {"condition": {"test": "datum.value === 3.5", "value": 1}, "value": 0}}}, "color": {"field": "factor", "type": "nominal", "scale": {"domain": ["S", "C", "Co", "#", "Md", "I", "M"], "range": ["#1c1a5c", "#2f6fb8", "#b38bd9", "#2e9a7e", "#8caa6a", "#e9a455", "#f1ee3a"]}, "legend": null}}},
       {"mark": {"type": "text", "angle": 90, "align": "left", "baseline": "middle", "dx": 1.5, "fontSize": 4.5, "color": "#555", "font": "DejaVu Sans"}, "encoding": {"xOffset": {"field": "factor", "type": "nominal", "sort": ["S", "C", "Co", "#", "I", "M"]}, "y": {"datum": 0, "axis": {"title": null}}, "text": {"field": "factor"}}},
       {"transform": [{"filter": "datum.factor === 'S'"}], "mark": {"type": "bar", "color": "#555"}, "encoding": {"y": {"datum": -0.78, "axis": {"title": null}}, "y2": {"datum": -0.85}}}
      ]
     },
     {
      "width": 105, "height": 108,
      "data": {"name": "fd"},
      "view": {"stroke": "#6b6b6b", "strokeWidth": 1.4, "fill": "#f6f9f1"},
      "title": {"text": "x10⁴", "anchor": "start", "dx": 9, "offset": 1, "fontSize": 9, "font": "DejaVu Sans", "fontWeight": "normal", "color": "#555"},
      "encoding": {"x": {"field": "measure", "type": "nominal", "sort": ["TPR", "FPR", "DICE"], "scale": {"paddingInner": 0.17, "paddingOuter": 0.04}, "axis": {"title": "(d) Mode-1, 500K fibers", "labelAngle": 0, "labelPadding": 13, "titlePadding": 7, "labelFont": "DejaVu Sans", "labelFontSize": 10.5, "labelColor": "#333", "titleFont": "DejaVu Sans", "titleFontSize": 10, "titleColor": "#333", "grid": false}}},
      "layer": [
       {"mark": {"type": "bar", "stroke": "#222", "strokeWidth": 0.7}, "encoding": {"xOffset": {"field": "factor", "type": "nominal", "sort": ["S", "C", "Co", "I", "M"], "scale": {"paddingInner": 0.1}}, "y": {"field": "value", "type": "quantitative", "scale": {"domain": [0, 2.5], "nice": false}, "axis": {"values": [0, 1.25, 2.5], "labelExpr": "datum.value + ''", "title": null, "labelFont": "DejaVu Sans", "labelFontSize": 9.5, "labelColor": "#666", "labelPadding": 2, "grid": true, "gridColor": "#cfd6c8", "gridOpacity": {"condition": {"test": "datum.value === 1.25", "value": 1}, "value": 0}}}, "color": {"field": "factor", "type": "nominal", "scale": {"domain": ["S", "C", "Co", "#", "Md", "I", "M"], "range": ["#1c1a5c", "#2f6fb8", "#b38bd9", "#2e9a7e", "#8caa6a", "#e9a455", "#f1ee3a"]}, "legend": null}}},
       {"mark": {"type": "text", "angle": 90, "align": "left", "baseline": "middle", "dx": 1.5, "fontSize": 4.5, "color": "#555", "font": "DejaVu Sans"}, "encoding": {"xOffset": {"field": "factor", "type": "nominal", "sort": ["S", "C", "Co", "I", "M"]}, "y": {"datum": 0, "axis": {"title": null}}, "text": {"field": "factor"}}},
       {"transform": [{"filter": "datum.factor === 'S'"}], "mark": {"type": "bar", "color": "#555"}, "encoding": {"y": {"datum": -0.278, "axis": {"title": null}}, "y2": {"datum": -0.302}}}
      ]
     },
     {
      "width": 104, "height": 108,
      "data": {"name": "fe"},
      "view": {"stroke": "#6b6b6b", "strokeWidth": 1.4, "fill": "#f6f9f1"},
      "title": {"text": "x10³", "anchor": "start", "dx": 9, "offset": 1, "fontSize": 9, "font": "DejaVu Sans", "fontWeight": "normal", "color": "#555"},
      "encoding": {"x": {"field": "measure", "type": "nominal", "sort": ["TPR", "FPR", "DICE"], "scale": {"paddingInner": 0.17, "paddingOuter": 0.04}, "axis": {"title": "(e) Mode-2, 500K fibers", "labelAngle": 0, "labelPadding": 13, "titlePadding": 7, "labelFont": "DejaVu Sans", "labelFontSize": 10.5, "labelColor": "#333", "titleFont": "DejaVu Sans", "titleFontSize": 10, "titleColor": "#333", "grid": false}}},
      "layer": [
       {"mark": {"type": "bar", "stroke": "#222", "strokeWidth": 0.7}, "encoding": {"xOffset": {"field": "factor", "type": "nominal", "sort": ["S", "C", "Co", "I", "M"], "scale": {"paddingInner": 0.1}}, "y": {"field": "value", "type": "quantitative", "scale": {"domain": [0, 7], "nice": false}, "axis": {"values": [0, 3.5, 7], "labelExpr": "datum.value + ''", "title": null, "labelFont": "DejaVu Sans", "labelFontSize": 9.5, "labelColor": "#666", "labelPadding": 2, "grid": true, "gridColor": "#cfd6c8", "gridOpacity": {"condition": {"test": "datum.value === 3.5", "value": 1}, "value": 0}}}, "color": {"field": "factor", "type": "nominal", "scale": {"domain": ["S", "C", "Co", "#", "Md", "I", "M"], "range": ["#1c1a5c", "#2f6fb8", "#b38bd9", "#2e9a7e", "#8caa6a", "#e9a455", "#f1ee3a"]}, "legend": null}}},
       {"mark": {"type": "text", "angle": 90, "align": "left", "baseline": "middle", "dx": 1.5, "fontSize": 4.5, "color": "#555", "font": "DejaVu Sans"}, "encoding": {"xOffset": {"field": "factor", "type": "nominal", "sort": ["S", "C", "Co", "I", "M"]}, "y": {"datum": 0, "axis": {"title": null}}, "text": {"field": "factor"}}},
       {"transform": [{"filter": "datum.factor === 'S'"}], "mark": {"type": "bar", "color": "#555"}, "encoding": {"y": {"datum": -0.78, "axis": {"title": null}}, "y2": {"datum": -0.85}}}
      ]
     },
     {
      "width": 90, "height": 108,
      "view": {"stroke": null},
      "data": {"name": "legendBottom"},
      "mark": {"type": "text", "align": "left", "baseline": "middle", "font": "DejaVu Sans", "fontSize": 9.5, "color": "#333"},
      "encoding": {
       "x": {"datum": -0.18, "type": "quantitative", "scale": {"domain": [0, 1]}, "axis": null},
       "y": {"field": "i", "type": "quantitative", "scale": {"domain": [0.857, 8.571], "reverse": true, "nice": false, "zero": false}, "axis": null},
       "text": {"field": "label"}
      }
     }
    ],
    "spacing": 25, "bounds": "flush"
   }
  ],
  "spacing": 15
 }
],
"spacing": 7
}
